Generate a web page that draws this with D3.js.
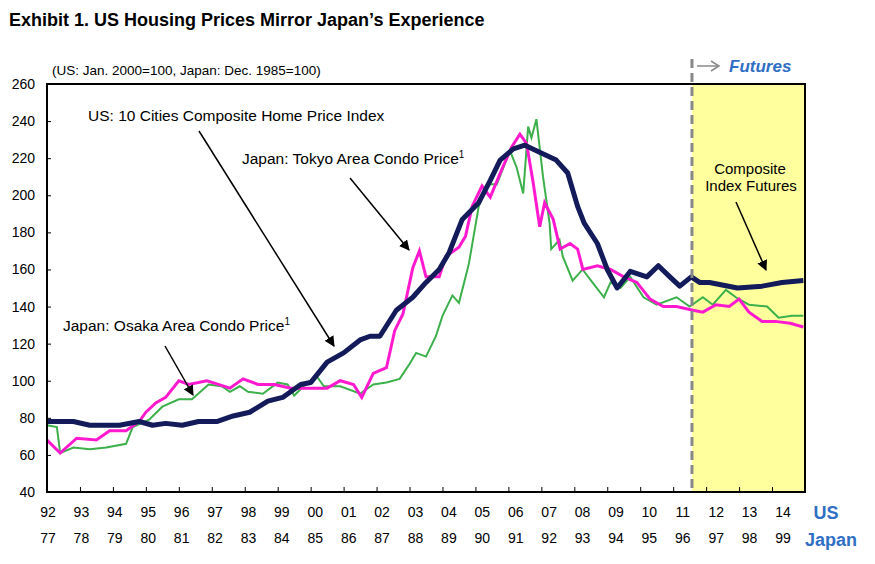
<!DOCTYPE html>
<html><head><meta charset="utf-8">
<script src="https://cdn.jsdelivr.net/npm/d3@7"></script>
<style>body{margin:0;background:#fff;font-family:"Liberation Sans",Arial,sans-serif}</style>
</head><body><div id="chart"></div>
<script>
// [year (US time axis), value]
const usIndex = [[1992.0,78],[1992.8,78],[1993.3,76],[1994.2,76],[1994.8,78],[1995.2,76],[1995.6,77],[1996.1,76],[1996.6,78],[1997.15,78],[1997.65,81],[1998.15,83],[1998.7,89],[1999.15,91],[1999.7,98],[2000.0,99],[2000.5,110],[2001.0,115],[2001.5,122],[2001.8,124],[2002.1,124],[2002.6,138],[2003.1,145],[2003.5,153],[2003.9,160],[2004.2,169],[2004.6,187],[2005.1,196],[2005.45,208],[2005.75,219],[2006.15,225],[2006.5,227],[2006.85,224],[2007.45,219],[2007.8,212],[2008.1,194],[2008.3,185],[2008.7,174],[2009.0,160],[2009.3,150],[2009.7,159],[2010.2,156],[2010.55,162],[2010.9,156],[2011.2,151],[2011.55,156],[2011.8,153],[2012.1,153],[2012.95,150],[2013.7,151],[2014.3,153],[2014.95,154]];
const tokyo = [[1992.0,68],[1992.4,61],[1992.9,69],[1993.5,68],[1993.9,73],[1994.4,73],[1994.8,78],[1995.0,83],[1995.3,88],[1995.6,91],[1996.0,100],[1996.3,98],[1996.85,100],[1997.2,98],[1997.55,96],[1997.95,101],[1998.4,98],[1998.9,98],[1999.4,96],[1999.9,96],[2000.5,96],[2000.9,100],[2001.3,98],[2001.55,91],[2001.9,104],[2002.3,107],[2002.55,127],[2002.8,136],[2003.1,161],[2003.3,170],[2003.5,156],[2003.9,156],[2004.1,167],[2004.5,172],[2004.7,178],[2004.9,194],[2005.2,205],[2005.45,199],[2005.8,214],[2006.1,226],[2006.35,233],[2006.55,228],[2006.75,207],[2006.95,183],[2007.1,196],[2007.36,187],[2007.57,171],[2007.87,174],[2008.1,171],[2008.26,160],[2008.7,162],[2009.1,160],[2009.5,156],[2009.9,153],[2010.3,144],[2010.7,140],[2011.1,140],[2011.6,138],[2011.9,137],[2012.3,141],[2012.7,140],[2013.0,144],[2013.3,137],[2013.7,132],[2014.1,132],[2014.55,131],[2014.95,129]];
const osaka = [[1992.0,76],[1992.3,75],[1992.4,61],[1992.8,64],[1993.3,63],[1993.8,64],[1994.4,66],[1994.6,75],[1995.1,79],[1995.5,86],[1996.0,90],[1996.4,90],[1996.9,98],[1997.3,97],[1997.55,94],[1997.85,97],[1998.1,94],[1998.55,93],[1999.0,99],[1999.3,98],[1999.5,92],[1999.9,99],[2000.2,102],[2000.4,97],[2000.9,97],[2001.5,93],[2001.9,98],[2002.3,99],[2002.7,101],[2003.0,109],[2003.2,115],[2003.5,113],[2003.8,124],[2004.0,135],[2004.3,146],[2004.5,142],[2004.8,163],[2005.1,194],[2005.35,206],[2005.65,206],[2006.05,224],[2006.25,215],[2006.45,201],[2006.6,237],[2006.7,231],[2006.85,241],[2007.05,210],[2007.25,185],[2007.3,171],[2007.55,176],[2007.65,167],[2007.95,154],[2008.25,160],[2008.55,153],[2008.9,145],[2009.1,153],[2009.4,150],[2009.7,156],[2010.1,145],[2010.5,141],[2011.1,145],[2011.5,140],[2011.9,145],[2012.2,141],[2012.6,149],[2012.9,145],[2013.3,141],[2013.85,140],[2014.2,134],[2014.6,135],[2014.95,135]];
const usLabels = ["92","93","94","95","96","97","98","99","00","01","02","03","04","05","06","07","08","09","10","11","12","13","14"];
const jpLabels = ["77","78","79","80","81","82","83","84","85","86","87","88","89","90","91","92","93","94","95","96","97","98","99"];
const yTicks = [40,60,80,100,120,140,160,180,200,220,240,260];
const futuresStart = 2011.57;

const W = 875, H = 564;
const margin = {top: 84, right: 70, bottom: 72, left: 47};
const x = d3.scaleLinear().domain([1992, 2015]).range([margin.left, W - margin.right]);
const y = d3.scaleLinear().domain([40, 260]).range([H - margin.bottom, margin.top]);
const xl = d3.scalePoint().domain(d3.range(usLabels.length)).range([48, 783]);

const svg = d3.select("#chart").append("svg").attr("width", W).attr("height", H)
    .style("font-family", "'Liberation Sans', Arial, sans-serif");

svg.append("text").attr("x", 9).attr("y", 26).attr("font-size", 18).attr("font-weight", "bold")
    .text("Exhibit 1. US Housing Prices Mirror Japan\u2019s Experience");
svg.append("text").attr("x", 52).attr("y", 75).attr("font-size", 13.5)
    .text("(US: Jan. 2000=100, Japan: Dec. 1985=100)");

// futures shading
svg.append("rect").attr("x", x(futuresStart)).attr("y", y(260))
    .attr("width", x(2015) - x(futuresStart)).attr("height", y(40) - y(260)).attr("fill", "#ffff9e");

// axes
svg.append("g").attr("transform", "translate(" + x(1992) + ",0)")
    .call(d3.axisLeft(y).tickValues(yTicks).tickSize(-4).tickPadding(12))
    .call(g => g.select(".domain").remove())
    .call(g => g.selectAll("text").attr("font-size", 14).attr("fill", "#000"));
svg.append("g").attr("transform", "translate(0," + y(40) + ")")
    .call(d3.axisBottom(x).tickValues(d3.range(1993, 2015)).tickSize(-5).tickFormat(""))
    .call(g => g.select(".domain").remove());

svg.append("g").selectAll("text").data(usLabels).join("text")
    .attr("x", (d, i) => xl(i)).attr("y", 517).attr("text-anchor", "middle").attr("font-size", 14)
    .text(d => d);
svg.append("g").selectAll("text").data(jpLabels).join("text")
    .attr("x", (d, i) => xl(i)).attr("y", 543).attr("text-anchor", "middle").attr("font-size", 14)
    .text(d => d);
svg.append("text").attr("x", 826).attr("y", 519).attr("text-anchor", "middle").attr("font-size", 18)
    .attr("font-weight", "bold").attr("fill", "#2f6fc4").text("US");
svg.append("text").attr("x", 831).attr("y", 546).attr("text-anchor", "middle").attr("font-size", 18)
    .attr("font-weight", "bold").attr("fill", "#2f6fc4").text("Japan");

const line = d3.line().x(d => x(d[0])).y(d => y(d[1]));
svg.append("path").datum(osaka).attr("d", line).attr("fill", "none").attr("stroke", "#3cb04a").attr("stroke-width", 2);
svg.append("path").datum(tokyo).attr("d", line).attr("fill", "none").attr("stroke", "#ff1ad0").attr("stroke-width", 3);
svg.append("path").datum(usIndex).attr("d", line).attr("fill", "none").attr("stroke", "#131b5a").attr("stroke-width", 5)
    .attr("stroke-linejoin", "round");

// frame
svg.append("rect").attr("x", x(1992)).attr("y", y(260)).attr("width", x(2015) - x(1992))
    .attr("height", y(40) - y(260)).attr("fill", "none").attr("stroke", "#000").attr("stroke-width", 2);

// futures divider
svg.append("line").attr("x1", x(futuresStart)).attr("x2", x(futuresStart)).attr("y1", 59).attr("y2", y(40))
    .attr("stroke", "#888").attr("stroke-width", 3).attr("stroke-dasharray", "9,5");
svg.append("line").attr("x1", 697).attr("x2", 718).attr("y1", 66).attr("y2", 66).attr("stroke", "#888").attr("stroke-width", 1.5);
svg.append("path").attr("d", "M711,61 L719,66 L711,71").attr("fill", "none").attr("stroke", "#888").attr("stroke-width", 1.5);
svg.append("text").attr("x", 729).attr("y", 72).attr("font-size", 17).attr("font-weight", "bold")
    .attr("font-style", "italic").attr("fill", "#2f6fc4").text("Futures");

// annotations
const defs = svg.append("defs");
defs.append("marker").attr("id", "ah").attr("viewBox", "0 0 10 10").attr("refX", 9).attr("refY", 5)
    .attr("markerWidth", 7).attr("markerHeight", 7).attr("orient", "auto")
    .append("path").attr("d", "M0,0 L10,5 L0,10 z").attr("fill", "#000");
function arrow(x1, y1, x2, y2) {
    svg.append("line").attr("x1", x1).attr("y1", y1).attr("x2", x2).attr("y2", y2)
        .attr("stroke", "#000").attr("stroke-width", 1.5).attr("marker-end", "url(#ah)");
}
function label(tx, ty, txt, sup) {
    const t = svg.append("text").attr("x", tx).attr("y", ty).attr("font-size", 15.5).text(txt);
    if (sup) t.append("tspan").attr("font-size", 10).attr("dy", -6).text(sup);
}
label(88, 121, "US: 10 Cities Composite Home Price Index");
arrow(199, 131, 334, 346);
label(242, 164, "Japan: Tokyo Area Condo Price", "1");
arrow(350, 178, 409, 250);
label(63, 331, "Japan: Osaka Area Condo Price", "1");
arrow(165, 346, 193, 395);
svg.append("text").attr("x", 750).attr("y", 174).attr("text-anchor", "middle").attr("font-size", 15).text("Composite");
svg.append("text").attr("x", 751).attr("y", 191).attr("text-anchor", "middle").attr("font-size", 15).text("Index Futures");
arrow(736, 202, 766, 270);
</script></body></html>
